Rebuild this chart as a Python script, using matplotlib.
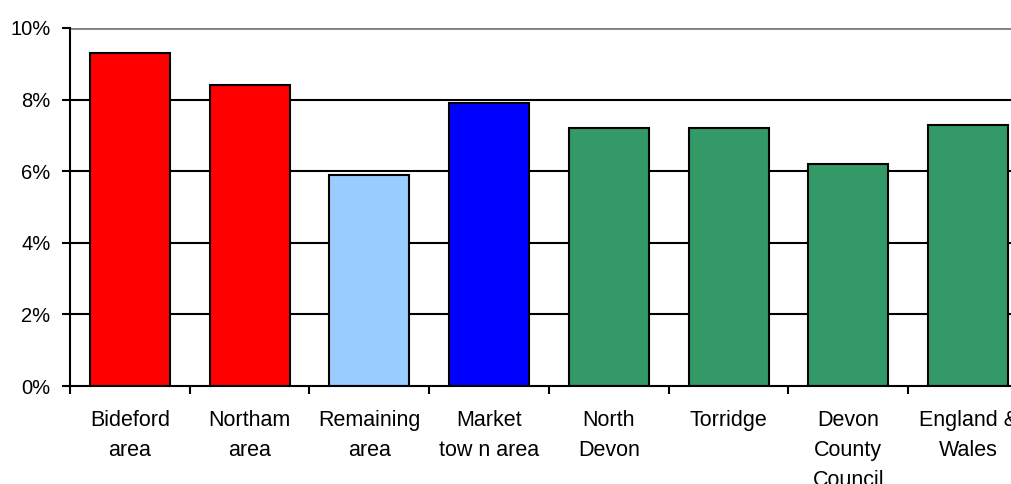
import matplotlib.pyplot as plt
from matplotlib.ticker import FuncFormatter

# data
areas = ['Bideford\narea', 'Northam\narea', 'Remaining\narea', 'Market\ntow n area',
         'North\nDevon', 'Torridge', 'Devon\nCounty\nCouncil', 'England &\nWales']
rates = [9.3, 8.4, 5.9, 7.9, 7.2, 7.2, 6.2, 7.3]
colours = ['#FF0000', '#FF0000', '#99CCFF', '#0000FF',
           '#339966', '#339966', '#339966', '#339966']

plt.rcParams['font.family'] = ['Liberation Sans', 'DejaVu Sans']

fig = plt.figure(figsize=(10.12, 4.84), dpi=100)
# plot area runs slightly past the right edge of the image
ax = fig.add_axes([70 / 1012, (484 - 386) / 484, 958 / 1012, 358 / 484])

x = list(range(len(areas)))
ax.bar(x, rates, width=0.67, color=colours, edgecolor='black', linewidth=1.5, zorder=3)

ax.set_xlim(-0.5, len(areas) - 0.5)
ax.set_ylim(0, 10)
ax.set_yticks([0, 2, 4, 6, 8, 10])
ax.yaxis.set_major_formatter(FuncFormatter(lambda v, p: '%d%%' % v))

for v in [2, 4, 6, 8]:
    ax.axhline(v, color='black', linewidth=1.5, zorder=1)
ax.axhline(10, color='#808080', linewidth=2, zorder=1)

ax.set_xticks([i + 0.5 for i in x[:-1]] + [-0.5], minor=False)
ax.set_xticklabels([])
ax.set_xticks(x, minor=True)
ax.set_xticklabels(areas, minor=True, fontsize=15.5, linespacing=1.58, va='top')
ax.tick_params(axis='x', which='minor', length=0, pad=17)
ax.tick_params(axis='x', which='major', length=6, width=1.5, direction='out')
ax.tick_params(axis='y', length=6, width=1.5, labelsize=14.5, pad=8)

for s in ['top', 'right']:
    ax.spines[s].set_visible(False)
for s in ['left', 'bottom']:
    ax.spines[s].set_linewidth(1.5)
    ax.spines[s].set_zorder(4)

fig.savefig('out.png', dpi=100)
